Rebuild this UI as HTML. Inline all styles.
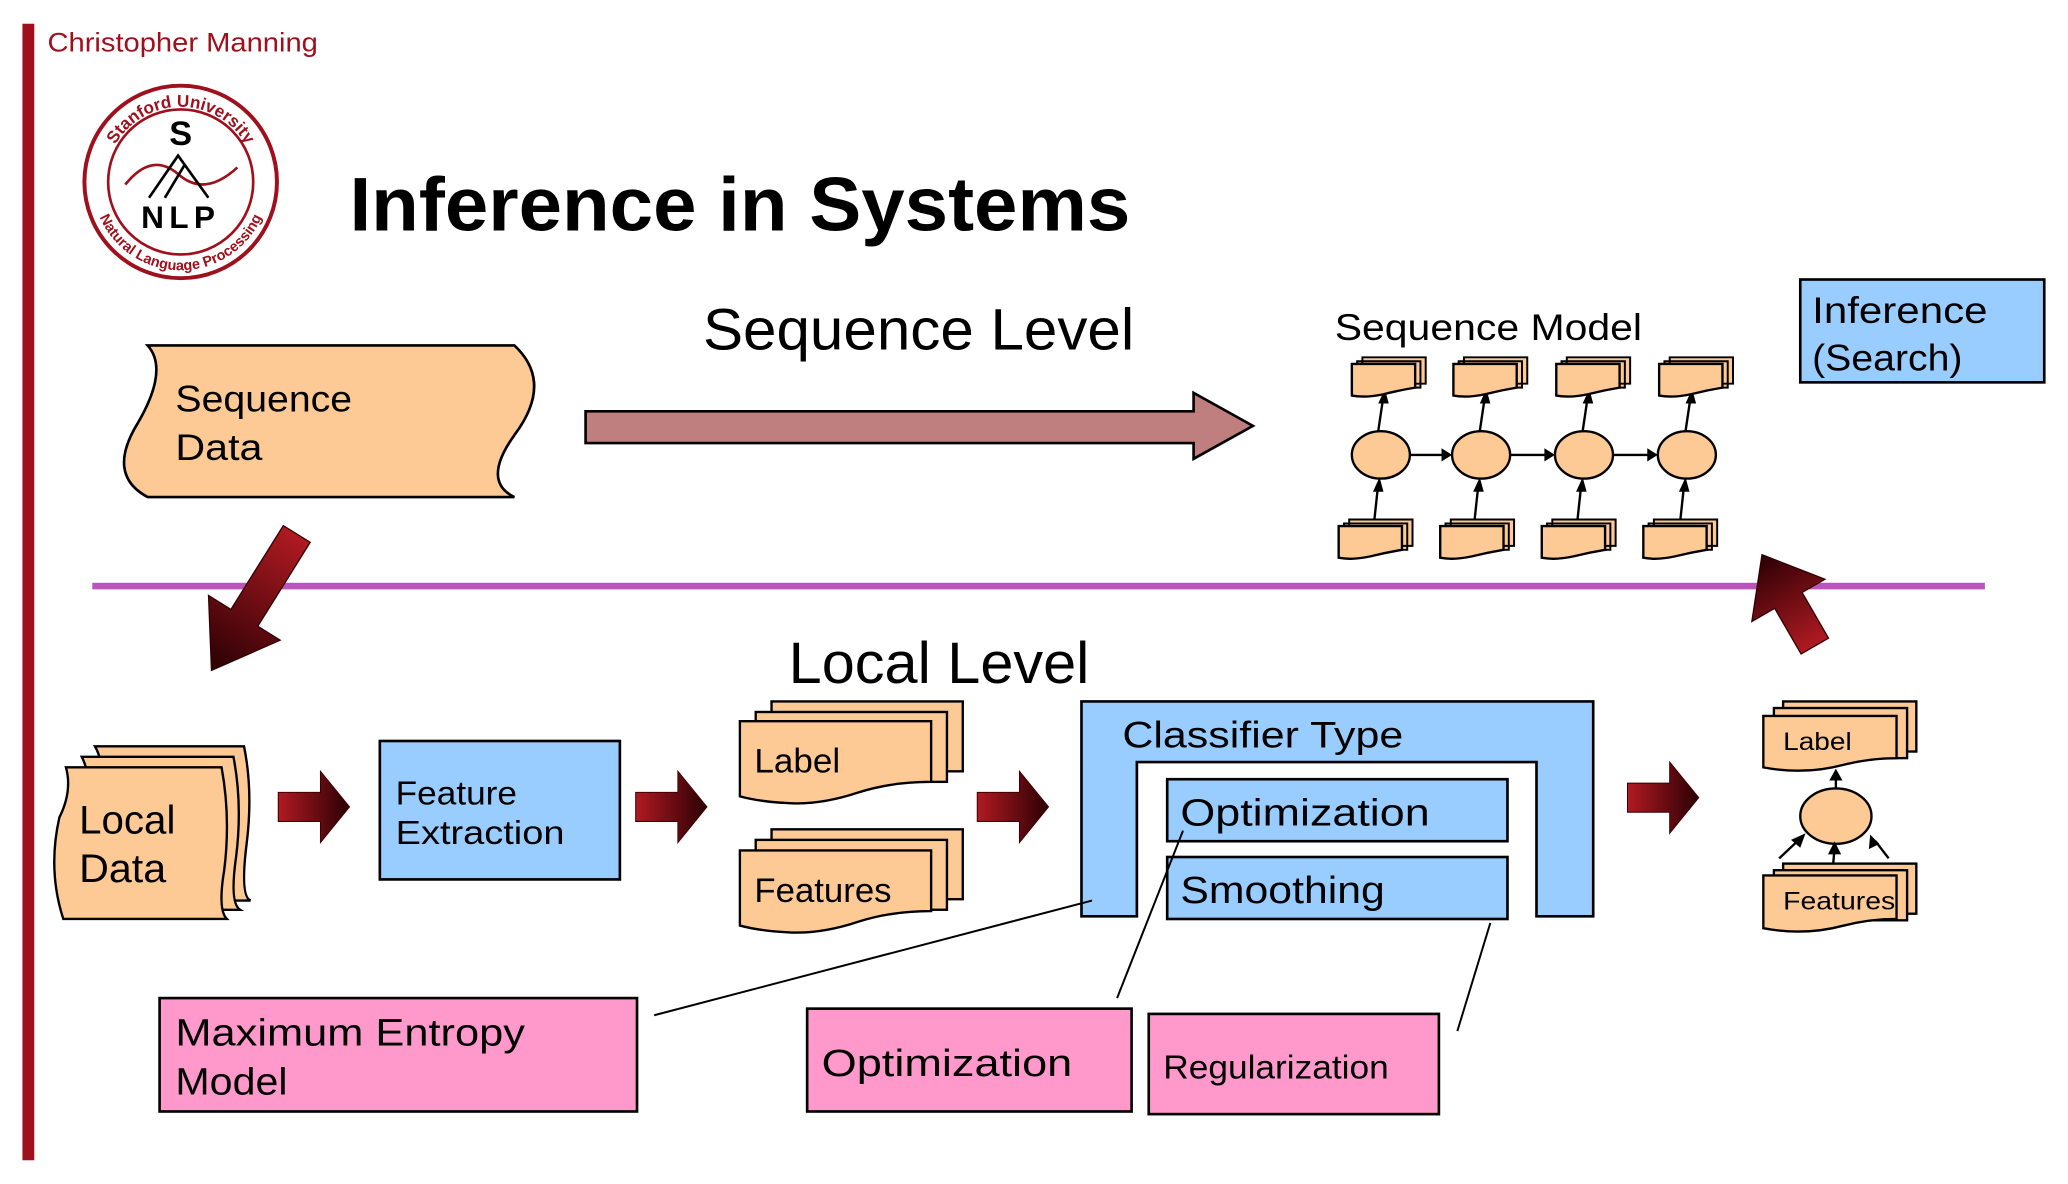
<!DOCTYPE html>
<html><head><meta charset="utf-8"><style>
html,body{margin:0;padding:0;background:#fff;}
svg{display:block;}
text{font-family:"Liberation Sans",sans-serif;}
</style></head><body>
<svg width="2068" height="1184" viewBox="0 0 1568 898" preserveAspectRatio="none" xmlns="http://www.w3.org/2000/svg">
<defs>
<linearGradient id="rg" x1="0" y1="0" x2="1" y2="0"><stop offset="0" stop-color="#b01a22"/><stop offset="1" stop-color="#2a0004"/></linearGradient>
<g id="sarrow"><polygon points="0,-11 32,-11 32,-27 54,0 32,27 32,11 0,11" fill="url(#rg)" stroke="#400" stroke-width="0.8"/></g>
<g id="minidoc"><path d="M8,-5 h48 v20 h-48z M4,-2 h48 v20 h-48z" fill="#fdc994" stroke="#000" stroke-width="1.5"/><path d="M0,0 h48 v18 q-12,2 -24,5 q-14,3 -24,1z" fill="#fdc994" stroke="#000" stroke-width="1.8"/></g>
<path id="arcTop" d="M80,138 A57,57 0 0 1 194,138"/>
<path id="arcBot" d="M70,138 A67,67 0 0 0 204,138"/>
</defs>
<rect x="17" y="18" width="9" height="862" fill="#a0101c"/>
<text x="36" y="39" font-size="20" fill="#a0101c" textLength="205" lengthAdjust="spacingAndGlyphs">Christopher Manning</text>
<circle cx="137" cy="138" r="73" fill="#fff" stroke="#a0101c" stroke-width="3"/>
<circle cx="137" cy="138" r="55" fill="none" stroke="#a0101c" stroke-width="2"/>
<text font-size="13" font-weight="bold" fill="#a0101c"><textPath href="#arcTop" startOffset="50%" text-anchor="middle">Stanford University</textPath></text>
<text font-size="11" font-weight="bold" fill="#a0101c"><textPath href="#arcBot" startOffset="50%" text-anchor="middle">Natural Language Processing</textPath></text>
<text x="137" y="110" font-size="26" font-weight="bold" text-anchor="middle">S</text>
<path d="M95,140 q20,-25 40,-8 q20,18 45,-5" fill="none" stroke="#a0101c" stroke-width="2"/>
<path d="M113,150 L135,118 L158,150 M125,150 L140,125" fill="none" stroke="#000" stroke-width="2"/>
<text x="137" y="173" font-size="24" font-weight="bold" text-anchor="middle" letter-spacing="4">NLP</text>
<text x="265" y="175" font-size="58" font-weight="bold" textLength="592" lengthAdjust="spacingAndGlyphs">Inference in Systems</text>
<text x="533" y="265" font-size="44" textLength="327" lengthAdjust="spacingAndGlyphs">Sequence Level</text>
<path d="M112,262 L390,262 Q420,290 390,330 Q365,365 390,377 L112,377 Q80,360 105,320 Q128,280 112,262z" fill="#fdc994" stroke="#000" stroke-width="2"/>
<text x="133" y="312" font-size="28" textLength="134" lengthAdjust="spacingAndGlyphs">Sequence</text>
<text x="133" y="349" font-size="28" textLength="66" lengthAdjust="spacingAndGlyphs">Data</text>
<polygon points="444,312 905,312 905,298 950,323 905,348 905,336 444,336" fill="#c07f7f" stroke="#000" stroke-width="2"/>
<text x="1012" y="258" font-size="28" textLength="233" lengthAdjust="spacingAndGlyphs">Sequence Model</text>
<g stroke="#000" stroke-width="1.8">
<line x1="1067" y1="345" x2="1095" y2="345"/><line x1="1145" y1="345" x2="1173" y2="345"/><line x1="1223" y1="345" x2="1251" y2="345"/>
</g>
<g fill="#000"><polygon points="1101,345 1093,340 1093,350"/><polygon points="1179,345 1171,340 1171,350"/><polygon points="1257,345 1249,340 1249,350"/></g>
<g stroke="#000" stroke-width="1.8">
<line x1="1045" y1="327" x2="1049" y2="300"/><line x1="1122" y1="327" x2="1126" y2="300"/><line x1="1200" y1="327" x2="1204" y2="300"/><line x1="1278" y1="327" x2="1282" y2="300"/>
<line x1="1042" y1="395" x2="1045" y2="367"/><line x1="1118" y1="395" x2="1121" y2="367"/><line x1="1196" y1="395" x2="1199" y2="367"/><line x1="1274" y1="395" x2="1277" y2="367"/>
</g>
<g fill="#000">
<polygon points="1050,295 1045,306 1053,306"/><polygon points="1127,295 1122,306 1130,306"/><polygon points="1205,295 1200,306 1208,306"/><polygon points="1283,295 1278,306 1286,306"/>
<polygon points="1046,362 1041,373 1049,373"/><polygon points="1122,362 1117,373 1125,373"/><polygon points="1200,362 1195,373 1203,373"/><polygon points="1278,362 1273,373 1281,373"/>
</g>
<g fill="#fdc994" stroke="#000" stroke-width="1.8">
<ellipse cx="1047" cy="345" rx="22" ry="18"/><ellipse cx="1123" cy="345" rx="22" ry="18"/><ellipse cx="1201" cy="345" rx="22" ry="18"/><ellipse cx="1279" cy="345" rx="22" ry="18"/>
</g>
<use href="#minidoc" x="1025" y="276"/><use href="#minidoc" x="1102" y="276"/><use href="#minidoc" x="1180" y="276"/><use href="#minidoc" x="1258" y="276"/>
<use href="#minidoc" x="1015" y="399"/><use href="#minidoc" x="1092" y="399"/><use href="#minidoc" x="1169" y="399"/><use href="#minidoc" x="1246" y="399"/>
<rect x="1365" y="212" width="185" height="78" fill="#99ccff" stroke="#000" stroke-width="2"/>
<text x="1374" y="245" font-size="28" textLength="133" lengthAdjust="spacingAndGlyphs">Inference</text>
<text x="1374" y="281" font-size="28" textLength="114" lengthAdjust="spacingAndGlyphs">(Search)</text>
<rect x="70" y="442" width="1435" height="5" fill="#bb55bb"/>
<g transform="translate(225,405) rotate(122)"><polygon points="0,-12 75,-12 75,-32 122,0 75,32 75,12 0,12" fill="url(#rg)" stroke="#300" stroke-width="1"/></g>
<g transform="translate(1376,490) rotate(-120)"><polygon points="0,-12 40,-12 40,-32 80,0 40,32 40,12 0,12" fill="url(#rg)" stroke="#300" stroke-width="1"/></g>
<text x="598" y="518" font-size="44" textLength="228" lengthAdjust="spacingAndGlyphs">Local Level</text>
<g fill="#fdc994" stroke="#000" stroke-width="1.8">
<path d="M72,566 L185,566 Q192,600 187,640 Q182,680 190,683 L80,683 Q70,640 75,600 Q80,580 72,566z"/>
<path d="M62,574 L177,574 Q184,610 179,650 Q174,685 182,690 L70,690 Q60,650 65,610 Q70,590 62,574z"/>
<path d="M50,582 L168,582 Q175,620 170,660 Q165,690 172,697 L48,697 Q36,660 45,620 Q55,600 50,582z"/>
</g>
<text x="60" y="632" font-size="30" textLength="73" lengthAdjust="spacingAndGlyphs">Local</text>
<text x="60" y="669" font-size="30" textLength="66" lengthAdjust="spacingAndGlyphs">Data</text>
<use href="#sarrow" x="211" y="612"/>
<rect x="288" y="562" width="182" height="105" fill="#99ccff" stroke="#000" stroke-width="2"/>
<text x="300" y="610" font-size="25" textLength="92" lengthAdjust="spacingAndGlyphs">Feature</text>
<text x="300" y="640" font-size="25" textLength="128" lengthAdjust="spacingAndGlyphs">Extraction</text>
<use href="#sarrow" x="482" y="612"/>
<g fill="#fdc994" stroke="#000" stroke-width="1.8">
<rect x="585" y="532" width="145" height="53"/><rect x="573" y="540" width="145" height="53"/>
<path d="M561,547 h145 v46 q-30,0 -55,8 q-30,10 -55,8 q-20,-1 -35,-5z"/>
<rect x="585" y="629" width="145" height="53"/><rect x="573" y="637" width="145" height="53"/>
<path d="M561,645 h145 v46 q-30,0 -55,8 q-30,10 -55,8 q-20,-1 -35,-5z"/>
</g>
<text x="572" y="586" font-size="26" textLength="65" lengthAdjust="spacingAndGlyphs">Label</text>
<text x="572" y="684" font-size="26" textLength="104" lengthAdjust="spacingAndGlyphs">Features</text>
<use href="#sarrow" x="741" y="612"/>
<path d="M820,532 H1208 V695 H1165 V578 H862 V695 H820z" fill="#99ccff" stroke="#000" stroke-width="2"/>
<text x="851" y="567" font-size="28" textLength="213" lengthAdjust="spacingAndGlyphs">Classifier Type</text>
<rect x="885" y="591" width="258" height="47" fill="#99ccff" stroke="#000" stroke-width="2"/>
<rect x="885" y="650" width="258" height="47" fill="#99ccff" stroke="#000" stroke-width="2"/>
<text x="895" y="626" font-size="29" textLength="189" lengthAdjust="spacingAndGlyphs">Optimization</text>
<text x="895" y="685" font-size="29" textLength="155" lengthAdjust="spacingAndGlyphs">Smoothing</text>
<use href="#sarrow" x="1234" y="605"/>
<g fill="#fdc994" stroke="#000" stroke-width="1.8">
<rect x="1352" y="532" width="101" height="38"/><rect x="1345" y="537" width="101" height="38"/>
<path d="M1337,543 h101 v32 q-20,0 -40,5 q-30,8 -61,2z"/>
<rect x="1352" y="655" width="101" height="38"/><rect x="1345" y="660" width="101" height="38"/>
<path d="M1337,664 h101 v33 q-20,0 -40,5 q-30,8 -61,2z"/>
<ellipse cx="1392" cy="619" rx="27" ry="21"/>
</g>
<text x="1352" y="569" font-size="19" textLength="52" lengthAdjust="spacingAndGlyphs">Label</text>
<text x="1352" y="690" font-size="19" textLength="85" lengthAdjust="spacingAndGlyphs">Features</text>
<g stroke="#000" stroke-width="1.8"><line x1="1392" y1="598" x2="1392" y2="588"/><line x1="1349" y1="651" x2="1365" y2="636"/><line x1="1390" y1="655" x2="1391" y2="643"/><line x1="1432" y1="651" x2="1422" y2="638"/></g>
<g fill="#000"><polygon points="1392,583 1387,592 1397,592"/><polygon points="1369,632 1358,637 1365,643"/><polygon points="1391,638 1386,648 1396,648"/><polygon points="1418,633 1417,644 1425,640"/></g>
<rect x="121" y="757" width="362" height="86" fill="#ff99cc" stroke="#000" stroke-width="2"/>
<text x="133" y="793" font-size="29" textLength="265" lengthAdjust="spacingAndGlyphs">Maximum Entropy</text>
<text x="133" y="830" font-size="29" textLength="85" lengthAdjust="spacingAndGlyphs">Model</text>
<rect x="612" y="765" width="246" height="78" fill="#ff99cc" stroke="#000" stroke-width="2"/>
<text x="623" y="816" font-size="29" textLength="190" lengthAdjust="spacingAndGlyphs">Optimization</text>
<rect x="871" y="769" width="220" height="76" fill="#ff99cc" stroke="#000" stroke-width="2"/>
<text x="882" y="818" font-size="25" textLength="171" lengthAdjust="spacingAndGlyphs">Regularization</text>
<g stroke="#000" stroke-width="1.5">
<line x1="496" y1="770" x2="828" y2="683"/>
<line x1="847" y1="757" x2="897" y2="630"/>
<line x1="1105" y1="782" x2="1130" y2="700"/>
</g>
</svg>
</body></html>
